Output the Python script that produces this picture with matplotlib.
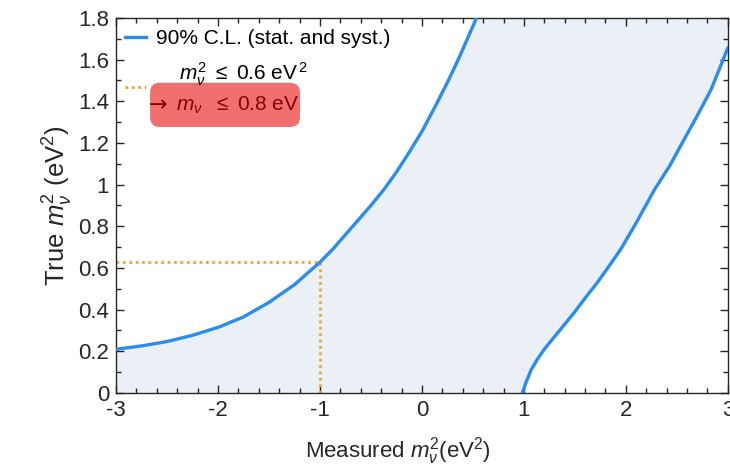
import matplotlib
matplotlib.use("Agg")
import matplotlib.pyplot as plt
import numpy as np
from matplotlib.patches import FancyBboxPatch
from matplotlib.legend_handler import HandlerLine2D
from matplotlib.ticker import MultipleLocator, FormatStrFormatter

plt.rcParams["font.family"] = ["Liberation Sans", "DejaVu Sans"]
plt.rcParams["mathtext.fontset"] = "custom"
plt.rcParams["mathtext.rm"] = "Liberation Sans"
plt.rcParams["mathtext.it"] = "Liberation Sans:italic"
plt.rcParams["axes.unicode_minus"] = False

# left (upper) boundary of the 90% C.L. band
left_x = [-3.0, -2.75, -2.5, -2.25, -2.0, -1.75, -1.5, -1.25, -1.0, -0.875, -0.75, -0.625,
          -0.5, -0.375, -0.25, -0.125, 0.0, 0.125, 0.25, 0.375, 0.5, 0.535]
left_y = [0.210, 0.226, 0.247, 0.277, 0.315, 0.365, 0.435, 0.52, 0.628, 0.69, 0.76, 0.83,
          0.90, 0.975, 1.06, 1.155, 1.255, 1.37, 1.49, 1.62, 1.76, 1.80]

# right (lower) boundary
right_x = [0.985, 1.02, 1.07, 1.13, 1.2, 1.3, 1.4, 1.5, 1.6, 1.72, 1.83, 1.95, 2.1,
           2.28, 2.43, 2.57, 2.7, 2.835, 3.0]
right_y = [0.0, 0.05, 0.11, 0.16, 0.21, 0.27, 0.33, 0.39, 0.455, 0.53, 0.605, 0.69, 0.815,
           0.975, 1.09, 1.215, 1.33, 1.455, 1.655]

# limit read-off
meas_limit = -1.0
true_limit = 0.63

xmin, xmax, ymin, ymax = -3, 3, 0, 1.8


class LoweredLine(HandlerLine2D):
    # legend handle drawn a bit below its label line
    def create_artists(self, legend, orig_handle, xdescent, ydescent, width, height, fontsize, trans):
        arts = super().create_artists(legend, orig_handle, xdescent, ydescent, width, height,
                                      fontsize, trans)
        for a in arts:
            a.set_ydata(np.asarray(a.get_ydata()) - 10)
        return arts


fig = plt.figure(figsize=(7.30, 4.69), dpi=100)
ax = fig.add_axes([0.159, 0.162, 0.838, 0.800])

# shaded band
poly_x = left_x + [xmax] + right_x[::-1] + [xmin]
poly_y = left_y + [ymax] + right_y[::-1] + [ymin]
ax.fill(poly_x, poly_y, color="#ebf0f6", lw=0, zorder=1)

blue = "#2a8cef"
orange = "#f0a437"
ax.plot(left_x, left_y, color=blue, lw=2.4, zorder=3, label="90% C.L. (stat. and syst.)")
ax.plot(right_x, right_y, color=blue, lw=2.4, zorder=3)

limit_line, = ax.plot([xmin, meas_limit], [true_limit, true_limit], color=orange, lw=2,
                      ls=(0, (1, 1.3)), zorder=2, label="    $m_\\nu^2\\ \\leq$ 0.6 eV$^{\\,2}$")
ax.plot([meas_limit, meas_limit], [ymin, true_limit], color=orange, lw=2, ls=(0, (1, 1.3)), zorder=2)

ax.set_xlim(xmin, xmax)
ax.set_ylim(ymin, ymax)
ax.xaxis.set_major_locator(MultipleLocator(1))
ax.xaxis.set_minor_locator(MultipleLocator(0.2))
ax.yaxis.set_major_locator(MultipleLocator(0.2))
ax.yaxis.set_minor_locator(MultipleLocator(0.1))
ax.yaxis.set_major_formatter(FormatStrFormatter("%g"))
ax.tick_params(which="both", direction="in", top=True, right=True, colors="#262626",
               labelsize=16, width=1)
ax.tick_params(which="major", length=6, pad=5)
ax.tick_params(which="minor", length=3.5)
for s in ax.spines.values():
    s.set_color("#262626")
    s.set_linewidth(1)

ax.set_xlabel("Measured $m_\\nu^2$(eV$^2$)", fontsize=16, color="#262626")
ax.xaxis.set_label_coords(0.461, -0.112)
ax.set_ylabel("True $m_\\nu^2$ (eV$^2$)", fontsize=18.5, color="#262626", labelpad=2)

leg = ax.legend(loc="upper left", bbox_to_anchor=(-0.016, 1.02), frameon=False, fontsize=15,
                handlelength=1.0, handletextpad=0.5, labelspacing=0.6,
                handler_map={limit_line: LoweredLine()})

# red highlight box for the derived limit
ax_w = 0.838 * 730
ax_h = 0.800 * 469
box = FancyBboxPatch((0.0556, 0.709), 0.245, 0.118, transform=ax.transAxes,
                     boxstyle="round,pad=0,rounding_size=0.016", mutation_aspect=ax_w / ax_h,
                     fc="#f07070", ec="none", zorder=4)
ax.add_patch(box)
ax.text(0.053, 0.768, "\u2192", transform=ax.transAxes, family="DejaVu Sans",
        fontsize=16, color="#8b0000", ha="left", va="center", zorder=5)
ax.text(0.098, 0.768, "$m_\\nu$  $\\leq$ 0.8 eV", transform=ax.transAxes,
        fontsize=15, color="#8b0000", ha="left", va="center", zorder=5)

fig.savefig("out.png", dpi=100)
